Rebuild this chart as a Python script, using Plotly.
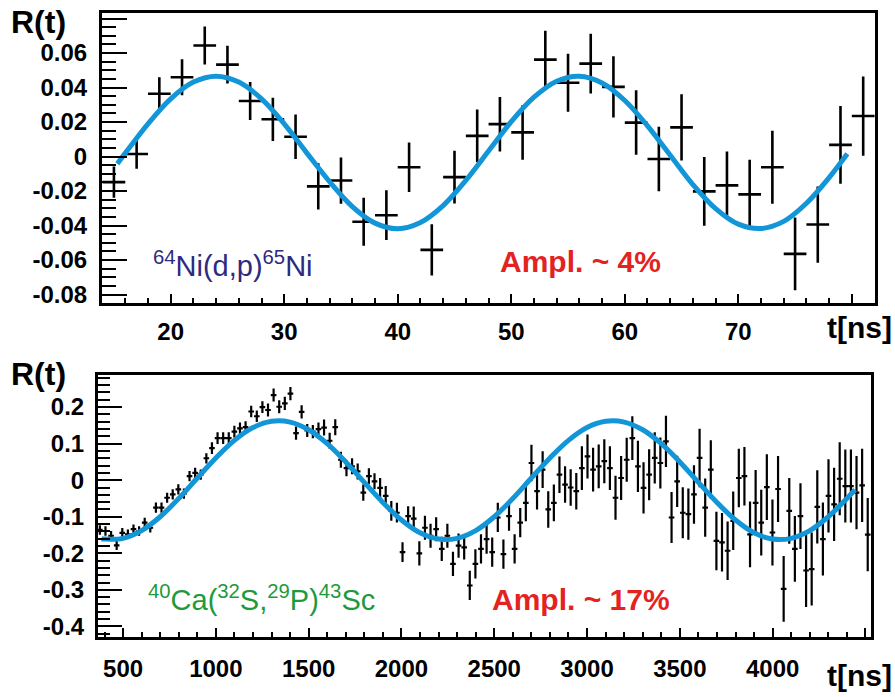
import plotly.graph_objects as go

W, H = 895, 697

# ---------------- top panel data: 64Ni(d,p)65Ni ----------------
t_top = [15, 17, 19, 21, 23, 25, 27, 29, 31, 33, 35, 37, 39, 41, 43, 45, 47,
         49, 51, 53, 55, 57, 59, 61, 63, 65, 67, 69, 71, 73, 75, 77, 79, 81]
r_top = [-0.0148, 0.0015, 0.0364, 0.0460, 0.0644, 0.0533, 0.0322, 0.0216, 0.0115,
         -0.0173, -0.0139, -0.0378, -0.0340, -0.0062, -0.0541, -0.0119, 0.0120,
         0.0188, 0.0140, 0.0562, 0.0428, 0.0539, 0.0404, 0.0197, -0.0014, 0.0169,
         -0.0202, -0.0167, -0.0219, -0.0062, -0.0564, -0.0394, 0.0068, 0.0235]
e_top = [0.0091, 0.0086, 0.0096, 0.0105, 0.0110, 0.0110, 0.0110, 0.0125, 0.0129,
         0.0134, 0.0134, 0.0139, 0.0144, 0.0144, 0.0149, 0.0153, 0.0153, 0.0158,
         0.0158, 0.0168, 0.0168, 0.0173, 0.0177, 0.0187, 0.0187, 0.0192, 0.0199,
         0.0197, 0.0201, 0.0211, 0.0211, 0.0221, 0.0225, 0.0230]
bin_top = 2.0

fit_t_top = [15.3, 16, 18, 20, 22, 24, 26, 28, 30, 32, 34, 36, 38, 40, 42, 44, 46,
             48, 50, 52, 54, 56, 58, 60, 62, 64, 66, 68, 70, 72, 74, 76, 78, 79.6]
fit_r_top = [-0.0041, 0.0020, 0.0190, 0.0335, 0.0432, 0.0466, 0.0432, 0.0335, 0.0190,
             0.0020, -0.0146, -0.0290, -0.0386, -0.0418, -0.0382, -0.0284, -0.0138,
             0.0032, 0.0202, 0.0344, 0.0437, 0.0466, 0.0427, 0.0325, 0.0178, 0.0008,
             -0.0162, -0.0302, -0.0392, -0.0417, -0.0376, -0.0271, -0.0122, 0.0016]

# ---------------- bottom panel data: 40Ca(32S,29P)43Sc ----------------
t0_bot = 375.0
bin_bot = 30.2
r_bot = [-0.136, -0.139, -0.152, -0.178, -0.144, -0.148, -0.134, -0.139, -0.116, -0.130,
         -0.075, -0.075, -0.048, -0.039, -0.025, -0.037, 0.011, 0.020, 0.015, 0.060,
         0.088, 0.115, 0.115, 0.115, 0.133, 0.142, 0.145, 0.188, 0.175, 0.200,
         0.192, 0.233, 0.201, 0.210, 0.237, 0.129, 0.187, 0.136, 0.133, 0.140,
         0.144, 0.108, 0.145, 0.056, 0.033, 0.038, 0.024, -0.034, 0.011, -0.003,
         -0.021, -0.043, -0.084, -0.089, -0.197, -0.098, -0.105, -0.200, -0.130, -0.152,
         -0.134, -0.188, -0.152, -0.229, -0.179, -0.184, -0.288, -0.229, -0.188, -0.161,
         -0.197, -0.102, -0.202, -0.098, -0.188, -0.116, -0.062, 0.047, -0.030, 0.029,
         -0.080, -0.062, 0.015, -0.012, -0.020, -0.030, 0.033, 0.065, 0.029, 0.038,
         0.052, 0.033, -0.048, 0.006, 0.056, 0.115, 0.038, -0.021, 0.015, 0.061,
         0.047, 0.106, -0.102, -0.003, -0.089, -0.093, -0.039, 0.061, -0.075, 0.029,
         -0.166, -0.170, -0.193, -0.111, 0.006, 0.011, -0.148, -0.062, -0.116, -0.019,
         -0.143, -0.024, -0.297, -0.084, -0.188, -0.098, -0.247, -0.243, -0.073, -0.161,
         -0.043, -0.066, 0.004, -0.016, -0.016, -0.034, -0.014, -0.149]
e_bot = ([0.013] * 10 + [0.014] * 10 + [0.016] * 10 + [0.018] * 10 + [0.022] * 10 +
         [0.027] * 6 + [0.033] * 10 + [0.040] * 10 + [0.050] * 10 + [0.060] * 10 +
         [0.070] * 10 + [0.080] * 10 + [0.090] * 10 + [0.100] * 12)
t_bot = [t0_bot + bin_bot * i for i in range(len(r_bot))]

fit_t_bot = [384, 400, 500, 600, 700, 800, 900, 1000, 1100, 1200, 1300, 1400, 1500,
             1600, 1700, 1800, 1900, 2000, 2100, 2200, 2300, 2400, 2500, 2600, 2700,
             2800, 2900, 3000, 3100, 3200, 3300, 3400, 3500, 3600, 3700, 3800, 3900,
             4000, 4100, 4200, 4300, 4400, 4444]
fit_r_bot = [-0.160, -0.161, -0.159, -0.138, -0.100, -0.050, 0.006, 0.061, 0.109, 0.144,
             0.161, 0.159, 0.138, 0.100, 0.050, -0.006, -0.061, -0.109, -0.144, -0.161,
             -0.159, -0.138, -0.100, -0.050, 0.006, 0.061, 0.109, 0.144, 0.161, 0.159,
             0.138, 0.100, 0.050, -0.006, -0.061, -0.109, -0.144, -0.161, -0.159, -0.138,
             -0.100, -0.050, -0.026]

# tick labels
ytop_vals = [0.08, 0.06, 0.04, 0.02, 0, -0.02, -0.04, -0.06, -0.08]
ytop_text = ["", "0.06", "0.04", "0.02", "0", "-0.02", "-0.04", "-0.06", "-0.08"]
xtop_vals = [20, 30, 40, 50, 60, 70, 80]
xtop_text = ["20", "30", "40", "50", "60", "70", ""]
ybot_vals = [0.2, 0.1, 0, -0.1, -0.2, -0.3, -0.4]
ybot_text = ["0.2", "0.1", "0", "-0.1", "-0.2", "-0.3", "-0.4"]
xbot_vals = [500, 1000, 1500, 2000, 2500, 3000, 3500, 4000, 4500]
xbot_text = ["500", "1000", "1500", "2000", "2500", "3000", "3500", "4000", ""]

FIT_COLOR = "#1296d8"
FONT = "Liberation Sans"

fig = go.Figure()

fig.add_trace(go.Scatter(
    x=t_top, y=r_top, mode="markers", xaxis="x", yaxis="y",
    marker=dict(size=2, color="black"),
    error_y=dict(type="data", array=e_top, thickness=2.6, width=0, color="black"),
    error_x=dict(type="constant", value=bin_top / 2, thickness=2.6, width=0, color="black"),
    showlegend=False, hoverinfo="skip"))
fig.add_trace(go.Scatter(
    x=fit_t_top, y=fit_r_top, mode="lines", xaxis="x", yaxis="y",
    line=dict(color=FIT_COLOR, width=5, shape="spline"), showlegend=False))

fig.add_trace(go.Scatter(
    x=t_bot, y=r_bot, mode="markers", xaxis="x2", yaxis="y2",
    marker=dict(size=2, color="black"),
    error_y=dict(type="data", array=e_bot, thickness=2.2, width=0, color="black"),
    error_x=dict(type="constant", value=bin_bot / 2, thickness=2.2, width=0, color="black"),
    showlegend=False, hoverinfo="skip"))
fig.add_trace(go.Scatter(
    x=fit_t_bot, y=fit_r_bot, mode="lines", xaxis="x2", yaxis="y2",
    line=dict(color=FIT_COLOR, width=5, shape="spline"), showlegend=False))

tickfont = dict(family=FONT, size=24, color="black", weight="bold")

def px(x):
    return x / W

def py(y):
    return 1 - y / H

common = dict(showgrid=False, zeroline=False, showline=True, linecolor="black",
              linewidth=3, mirror=True, ticks="inside", tickcolor="black",
              tickfont=tickfont)

fig.update_layout(
    width=W, height=H,
    margin=dict(l=0, r=0, t=0, b=0),
    paper_bgcolor="white", plot_bgcolor="white",
    xaxis=dict(domain=[px(102), px(875)], range=[13.95, 82.04], anchor="y",
               tickvals=xtop_vals, ticktext=xtop_text, ticklen=9, tickwidth=2,
               ticklabelstandoff=5,
               minor=dict(dtick=2, ticklen=5, tickwidth=1.5, ticks="inside", tickcolor="black"),
               **common),
    yaxis=dict(domain=[py(305), py(13)], range=[-0.0848, 0.0833], anchor="x",
               tickvals=ytop_vals, ticktext=ytop_text, ticklen=25, tickwidth=2,
               ticklabelstandoff=7,
               minor=dict(dtick=0.005, ticklen=14, tickwidth=1.5, ticks="inside", tickcolor="black"),
               **common),
    xaxis2=dict(domain=[px(98), px(871)], range=[365, 4530], anchor="y2",
                tickvals=xbot_vals, ticktext=xbot_text, ticklen=9, tickwidth=2,
                ticklabelstandoff=8,
                minor=dict(dtick=100, ticklen=5, tickwidth=1.5, ticks="inside", tickcolor="black"),
                **common),
    yaxis2=dict(domain=[py(642), py(378)], range=[-0.430, 0.287], anchor="x2",
                tickvals=ybot_vals, ticktext=ybot_text, ticklen=24, tickwidth=2,
                ticklabelstandoff=6,
                minor=dict(dtick=0.02, ticklen=12, tickwidth=1.5, ticks="inside", tickcolor="black"),
                **common),
)

def note(text, x, y, size, color="black", bold=False, xanchor="left"):
    fig.add_annotation(text=text, x=px(x), y=py(y), xref="paper", yref="paper",
                       xanchor=xanchor, yanchor="middle", showarrow=False,
                       font=dict(family=FONT, size=size, color=color,
                                 weight="bold" if bold else "normal"))

note("R(t)", 9, 22, 32, bold=True)
note("R(t)", 9, 377, 32, bold=True)
note("t[ns]", 825, 330, 30, bold=True)
note("t[ns]", 825, 680, 30, bold=True)
note("<sup>64</sup>Ni(d,p)<sup>65</sup>Ni", 151, 266, 29, color="#2d2a7f")
note("Ampl. ~ 4%", 498, 263, 30, color="#e3231f", bold=True)
note("<sup>40</sup>Ca(<sup>32</sup>S,<sup>29</sup>P)<sup>43</sup>Sc", 146, 602, 29, color="#1e9a3c")
note("Ampl. ~ 17%", 490, 604, 30, color="#e3231f", bold=True)

# the page body carries the browser's default 8px margin; remove it so the
# figure sits flush in the 895x697 window
fig.write_html("out.html", config={"displayModeBar": False},
               post_script="document.body.style.margin='0px';")
